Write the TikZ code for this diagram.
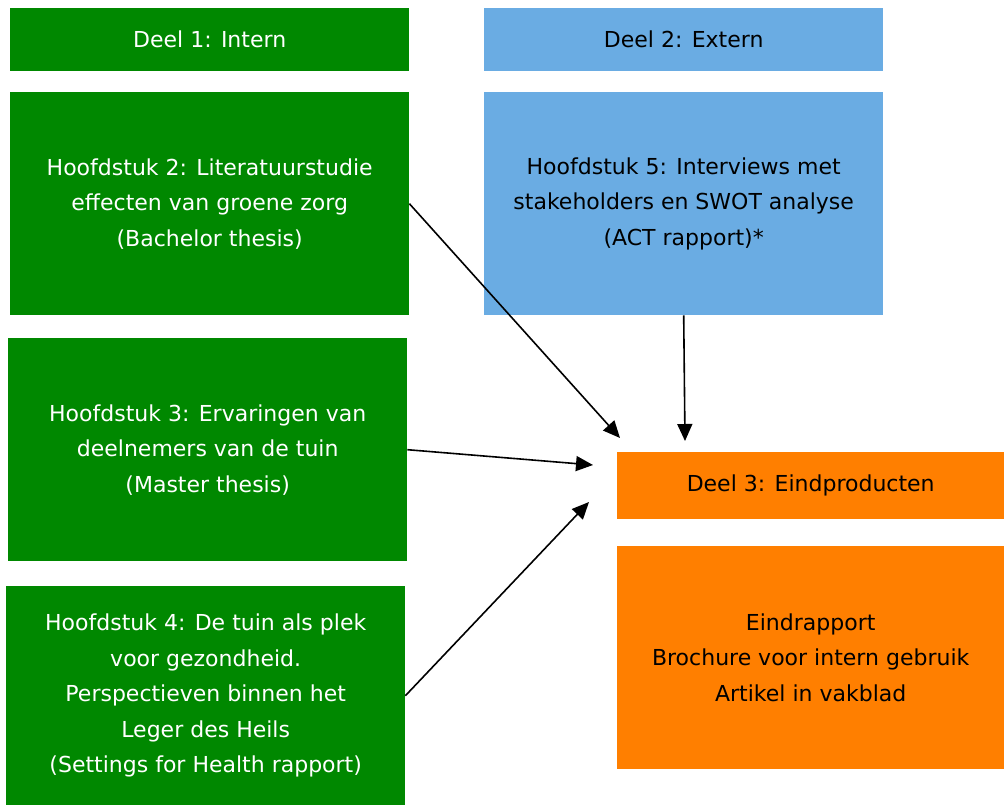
\documentclass[tikz,border=0pt]{standalone}
\usepackage{fontspec}
\setmainfont{DejaVu Sans}
\usetikzlibrary{arrows.meta}

\definecolor{intgreen}{HTML}{008800}
\definecolor{extblue}{HTML}{6AACE3}
\definecolor{endorange}{HTML}{FF7F00}

\tikzset{
  blok/.style={anchor=north west, inner sep=0pt, align=center,
    minimum width=399pt, font=\fontsize{22}{35.5}\selectfont},
  intern/.style={blok, fill=intgreen, text=white},
  extern/.style={blok, fill=extblue, text=black},
  eind/.style={blok, fill=endorange, text=black, minimum width=387pt},
  pijl/.style={-{Triangle[length=17pt,width=15pt]}, line width=1.6pt}
}

\begin{document}
\begin{tikzpicture}[x=1pt,y=-1pt]
  \useasboundingbox (0,0) rectangle (1004,805);

  \node[intern, minimum height=63pt] (d1) at (10,8) {Deel 1: Intern};
  \node[extern, minimum height=63pt] (d2) at (484,8) {Deel 2: Extern};
  \node[intern, minimum height=223pt] (h2) at (10,92) {Hoofdstuk 2: Literatuurstudie\\effecten van groene zorg\\(Bachelor thesis)};
  \node[extern, minimum height=223pt] (h5) at (484,92) {Hoofdstuk 5: Interviews met\\stakeholders en SWOT analyse\\(ACT rapport)*};
  \node[intern, minimum height=223pt] (h3) at (8,338) {Hoofdstuk 3: Ervaringen van\\deelnemers van de tuin\\(Master thesis)};
  \node[intern, minimum height=219pt] (h4) at (6,586) {Hoofdstuk 4: De tuin als plek\\voor gezondheid.\\Perspectieven binnen het\\Leger des Heils\\(Settings for Health rapport)};
  \node[eind, minimum height=67pt] (d3) at (617,452) {Deel 3: Eindproducten};
  \node[eind, minimum height=223pt] (ep) at (617,546) {Eindrapport\\Brochure voor intern gebruik\\Artikel in vakblad};

  % vrije eindpunten van de pijlen
  \coordinate (p2) at (620,438);
  \coordinate (p5) at (685,441);
  \coordinate (p3) at (593,465);
  \coordinate (p4) at (589,502);

  \draw[pijl] (h2.east) -- (p2);
  \draw[pijl] (h5.south) -- (p5);
  \draw[pijl] (h3.east) -- (p3);
  \draw[pijl] (h4.east) -- (p4);
\end{tikzpicture}
\end{document}
